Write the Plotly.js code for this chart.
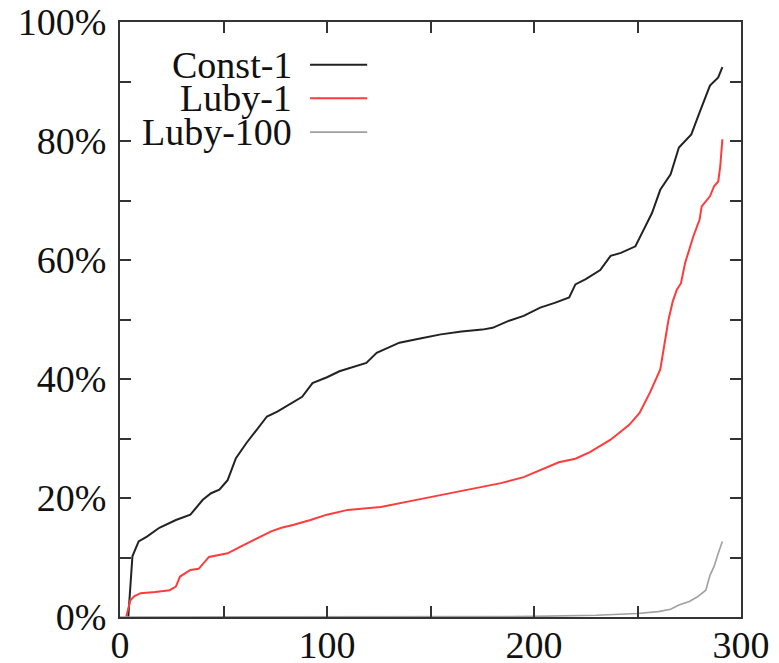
<!DOCTYPE html>
<html>
<head>
<meta charset="utf-8">
<script src="https://cdn.plot.ly/plotly-3.0.1.min.js"></script>
<style>html,body{margin:0;padding:0;background:#fff;}#chart{width:779px;height:663px;}</style>
</head>
<body>
<div id="chart"></div>
<script>
// Series names
const seriesNames = ["Const-1", "Luby-1", "Luby-100"];

// Const-1 (black)
const constX = [4, 5, 6, 9, 13, 19, 27, 34, 40, 44, 48, 52, 56, 61, 66, 71, 76, 82, 88, 93, 100, 106, 113, 119, 124, 130, 135, 145, 155, 165, 175, 180, 188, 195, 203, 210, 217, 220, 225, 232, 237, 242, 249, 253, 257, 261, 266, 270, 276, 280, 285, 289, 291];
const constY = [0, 5, 10.2, 12.7, 13.5, 15, 16.3, 17.2, 19.7, 20.8, 21.4, 23, 26.7, 29.2, 31.5, 33.7, 34.5, 35.7, 37, 39.3, 40.3, 41.3, 42, 42.7, 44.4, 45.3, 46.1, 46.8, 47.5, 48, 48.3, 48.6, 49.8, 50.6, 52, 52.8, 53.7, 55.9, 56.8, 58.3, 60.7, 61.2, 62.3, 65.1, 67.9, 71.8, 74.4, 78.9, 81.1, 84.8, 89.3, 90.7, 92.4];

// Luby-1 (red)
const luby1X = [3, 4, 5, 7, 10, 17, 24, 27, 29, 34, 38, 43, 52, 58, 63, 68, 73, 78, 84, 92, 100, 110, 126, 142, 159, 170, 184, 195, 203, 212, 220, 227, 237, 246, 251, 256, 261, 263, 265, 267, 269, 271, 273, 277, 280, 281, 285, 287, 289, 290, 291];
const luby1Y = [0, 1.5, 2.8, 3.5, 4, 4.2, 4.5, 5.1, 6.8, 7.9, 8.1, 10.1, 10.7, 11.8, 12.7, 13.6, 14.4, 15, 15.5, 16.3, 17.2, 18, 18.5, 19.6, 20.8, 21.5, 22.5, 23.5, 24.7, 26, 26.6, 27.7, 29.8, 32.3, 34.3, 37.7, 41.6, 46, 50, 53, 55, 56.1, 59.5, 64, 66.8, 69, 70.7, 72.4, 73.2, 75.8, 80.3];

// Luby-100 (gray)
const luby100X = [0, 100, 200, 230, 250, 260, 266, 270, 275, 279, 283, 285, 287, 289, 291];
const luby100Y = [0, 0, 0.1, 0.3, 0.6, 0.9, 1.3, 2, 2.6, 3.4, 4.5, 7, 8.5, 10.7, 12.7];

// Axis ticks
const xTickVals = [0, 50, 100, 150, 200, 250, 300];
const xTickText = ["0", "", "100", "", "200", "", "300"];
const yTickVals = [0, 10, 20, 30, 40, 50, 60, 70, 80, 90, 100];
const yTickText = ["0%", "", "20%", "", "40%", "", "60%", "", "80%", "", "100%"];

const colors = ["#222222", "#ff3b3b", "#a0a0a0"];
const widths = [2, 2, 1.6];

const xs = [constX, luby1X, luby100X];
const ys = [constY, luby1Y, luby100Y];

const traces = seriesNames.map((n, i) => ({
  x: xs[i], y: ys[i], name: n, type: "scatter", mode: "lines",
  line: {color: colors[i], width: widths[i]}, showlegend: false
}));

const font = {family: "Liberation Serif, Times New Roman, serif", size: 38, color: "#111"};

// Manual legend (text right-aligned, sample line to the right)
const legX = 0.279, legY = [0.928, 0.872, 0.815];
const annotations = seriesNames.map((n, i) => ({
  xref: "paper", yref: "paper", x: legX, y: legY[i], text: n,
  xanchor: "right", yanchor: "middle", showarrow: false, font: font, borderpad: 0
}));
const shapes = seriesNames.map((n, i) => ({
  type: "line", xref: "paper", yref: "paper", x0: 0.306, x1: 0.398, y0: legY[i], y1: legY[i],
  line: {color: colors[i], width: widths[i]}
}));

const axisCommon = {
  showgrid: false, zeroline: false, showline: true, linecolor: "#333", linewidth: 2,
  mirror: "allticks", ticks: "inside", ticklen: 11, tickwidth: 2, tickcolor: "#333",
  tickfont: font
};

const layout = {
  width: 779, height: 663,
  margin: {l: 120, r: 38, t: 22, b: 46},
  paper_bgcolor: "#fff", plot_bgcolor: "#fff",
  font: font,
  xaxis: Object.assign({}, axisCommon, {range: [0, 300], tickmode: "array", tickvals: xTickVals, ticktext: xTickText, ticklabelstandoff: -7}),
  yaxis: Object.assign({}, axisCommon, {range: [0, 100], tickmode: "array", tickvals: yTickVals, ticktext: yTickText, ticklabelstandoff: 4}),
  annotations: annotations,
  shapes: shapes
};

Plotly.newPlot("chart", traces, layout, {staticPlot: true, displayModeBar: false});
</script>
</body>
</html>
